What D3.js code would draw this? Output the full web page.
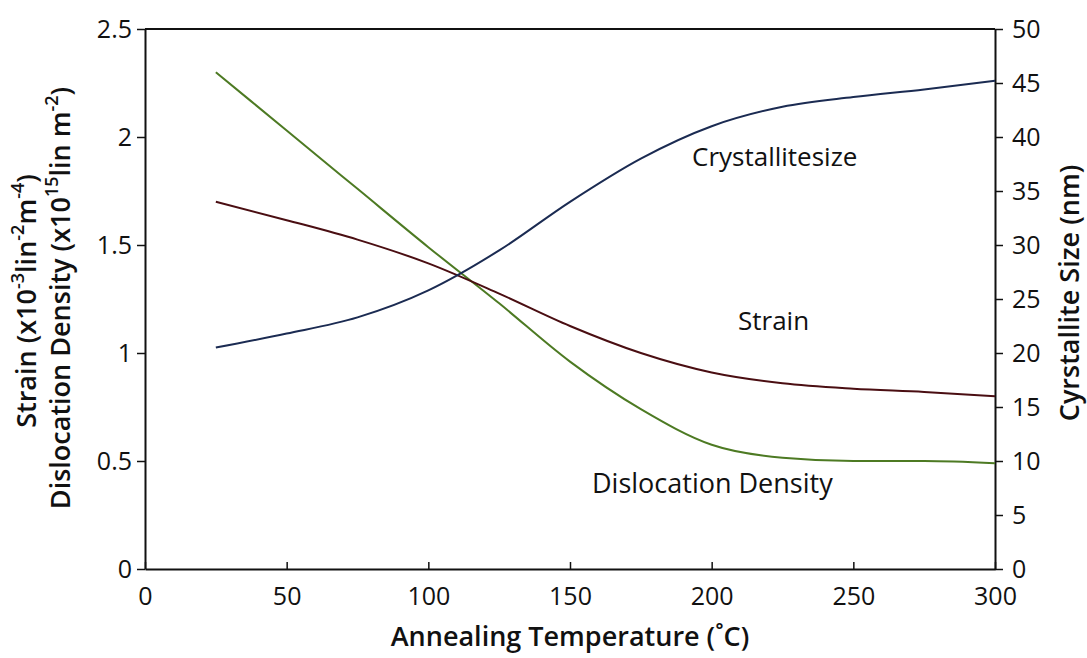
<!DOCTYPE html>
<html>
<head>
<meta charset="utf-8">
<script src="https://cdn.jsdelivr.net/npm/d3@7/dist/d3.min.js"></script>
<style>
  body { margin: 0; background: #fff; }
  svg { font-family: "Open Sans", "Noto Sans", sans-serif; }
  .tick text { font-size: 25px; fill: #111; }
  .label { font-size: 26px; fill: #111; }
  .title { font-size: 27px; font-weight: 600; fill: #111; }
</style>
</head>
<body>
<svg id="chart" width="1087" height="658"></svg>
<script>
// annealing temperatures (°C)
var temps = [25, 50, 75, 100, 125, 150, 175, 200, 225, 250, 275, 300];
// strain (x10^-3) and dislocation density (x10^15) on the left axis
var strain = [1.70, 1.615, 1.525, 1.415, 1.275, 1.125, 1.00, 0.91, 0.86, 0.835, 0.82, 0.80];
var dislocation = [2.30, 2.03, 1.76, 1.49, 1.23, 0.96, 0.74, 0.575, 0.515, 0.50, 0.50, 0.49];
// crystallite size (nm) on the right axis
var crystallite = [20.5, 21.8, 23.3, 25.8, 29.5, 34.0, 38.0, 41.0, 42.8, 43.7, 44.4, 45.2];

var xTicks = [0, 50, 100, 150, 200, 250, 300];
var yLeftTicks = [0, 0.5, 1, 1.5, 2, 2.5];
var yRightTicks = [0, 5, 10, 15, 20, 25, 30, 35, 40, 45, 50];

const plotLeft = 145, plotRight = 995, plotTop = 29, plotBottom = 569;

var svg = d3.select('#chart');

var x = d3.scaleLinear().domain([0, 300]).range([plotLeft, plotRight]);
var yL = d3.scaleLinear().domain([0, 2.5]).range([plotBottom, plotTop]);
var yR = d3.scaleLinear().domain([0, 50]).range([plotBottom, plotTop]);

// top border of the frame
svg.append('line')
    .attr('x1', plotLeft).attr('x2', plotRight)
    .attr('y1', plotTop).attr('y2', plotTop)
    .attr('stroke', '#111').attr('stroke-width', 2);

// bottom axis, ticks pointing up into the plot
var gx = svg.append('g')
    .attr('transform', 'translate(0,' + plotBottom + ')')
    .call(d3.axisBottom(x).tickValues(xTicks).tickSizeInner(-7).tickSizeOuter(0).tickPadding(28));

// left axis
var gl = svg.append('g')
    .attr('transform', 'translate(' + plotLeft + ',0)')
    .call(d3.axisLeft(yL).tickValues(yLeftTicks).tickSizeInner(8).tickSizeOuter(0).tickPadding(5)
        .tickFormat(d3.format('')));

// right axis
var gr = svg.append('g')
    .attr('transform', 'translate(' + plotRight + ',0)')
    .call(d3.axisRight(yR).tickValues(yRightTicks).tickSizeInner(8).tickSizeOuter(0).tickPadding(9));

[gx, gl, gr].forEach((g) => {
    g.attr('font-family', null).attr('font-size', null);
    g.select('.domain').attr('stroke', '#111').attr('stroke-width', 2);
    g.selectAll('.tick line').attr('stroke', '#111').attr('stroke-width', 1.5);
});
gx.selectAll('.tick text').attr('dy', '0.32em');

// the three curves
var lineL = d3.line()
    .x((d, i) => { return x(temps[i]); })
    .y((d) => { return yL(d); })
    .curve(d3.curveMonotoneX);
var lineR = d3.line()
    .x((d, i) => { return x(temps[i]); })
    .y((d) => { return yR(d); })
    .curve(d3.curveMonotoneX);

svg.append('path').datum(dislocation)
    .attr('fill', 'none').attr('stroke', '#4d7a23').attr('stroke-width', 2)
    .attr('d', lineL);
svg.append('path').datum(strain)
    .attr('fill', 'none').attr('stroke', '#4a0e12').attr('stroke-width', 2)
    .attr('d', lineL);
svg.append('path').datum(crystallite)
    .attr('fill', 'none').attr('stroke', '#1b2b52').attr('stroke-width', 2)
    .attr('d', lineR);

// curve labels
svg.append('text').attr('class', 'label').attr('x', 692).attr('y', 166).text('Crystallitesize');
svg.append('text').attr('class', 'label').attr('x', 738).attr('y', 330).text('Strain');
svg.append('text').attr('class', 'label').attr('x', 592).attr('y', 493).style('font-size', '27px').text('Dislocation Density');

// x axis title
svg.append('text').attr('class', 'title')
    .attr('x', 570).attr('y', 646).attr('text-anchor', 'middle')
    .text('Annealing Temperature (˚C)');

// left axis title, two lines
var lt1 = svg.append('text').attr('class', 'title')
    .attr('transform', 'translate(36,301) rotate(-90)').attr('text-anchor', 'middle');
lt1.append('tspan').text('Strain (x10');
lt1.append('tspan').attr('baseline-shift', 'super').attr('font-size', 18).text('-3');
lt1.append('tspan').text('lin');
lt1.append('tspan').attr('baseline-shift', 'super').attr('font-size', 18).text('-2');
lt1.append('tspan').text('m');
lt1.append('tspan').attr('baseline-shift', 'super').attr('font-size', 18).text('-4');
lt1.append('tspan').text(')');

var lt2 = svg.append('text').attr('class', 'title')
    .attr('transform', 'translate(70,298) rotate(-90)').attr('text-anchor', 'middle');
lt2.append('tspan').text('Dislocation Density (x10');
lt2.append('tspan').attr('baseline-shift', 'super').attr('font-size', 18).text('15');
lt2.append('tspan').text('lin m');
lt2.append('tspan').attr('baseline-shift', 'super').attr('font-size', 18).text('-2');
lt2.append('tspan').text(')');

// right axis title
svg.append('text').attr('class', 'title')
    .attr('transform', 'translate(1079,293) rotate(-90)').attr('text-anchor', 'middle')
    .text('Cyrstallite Size (nm)');
</script>
</body>
</html>
